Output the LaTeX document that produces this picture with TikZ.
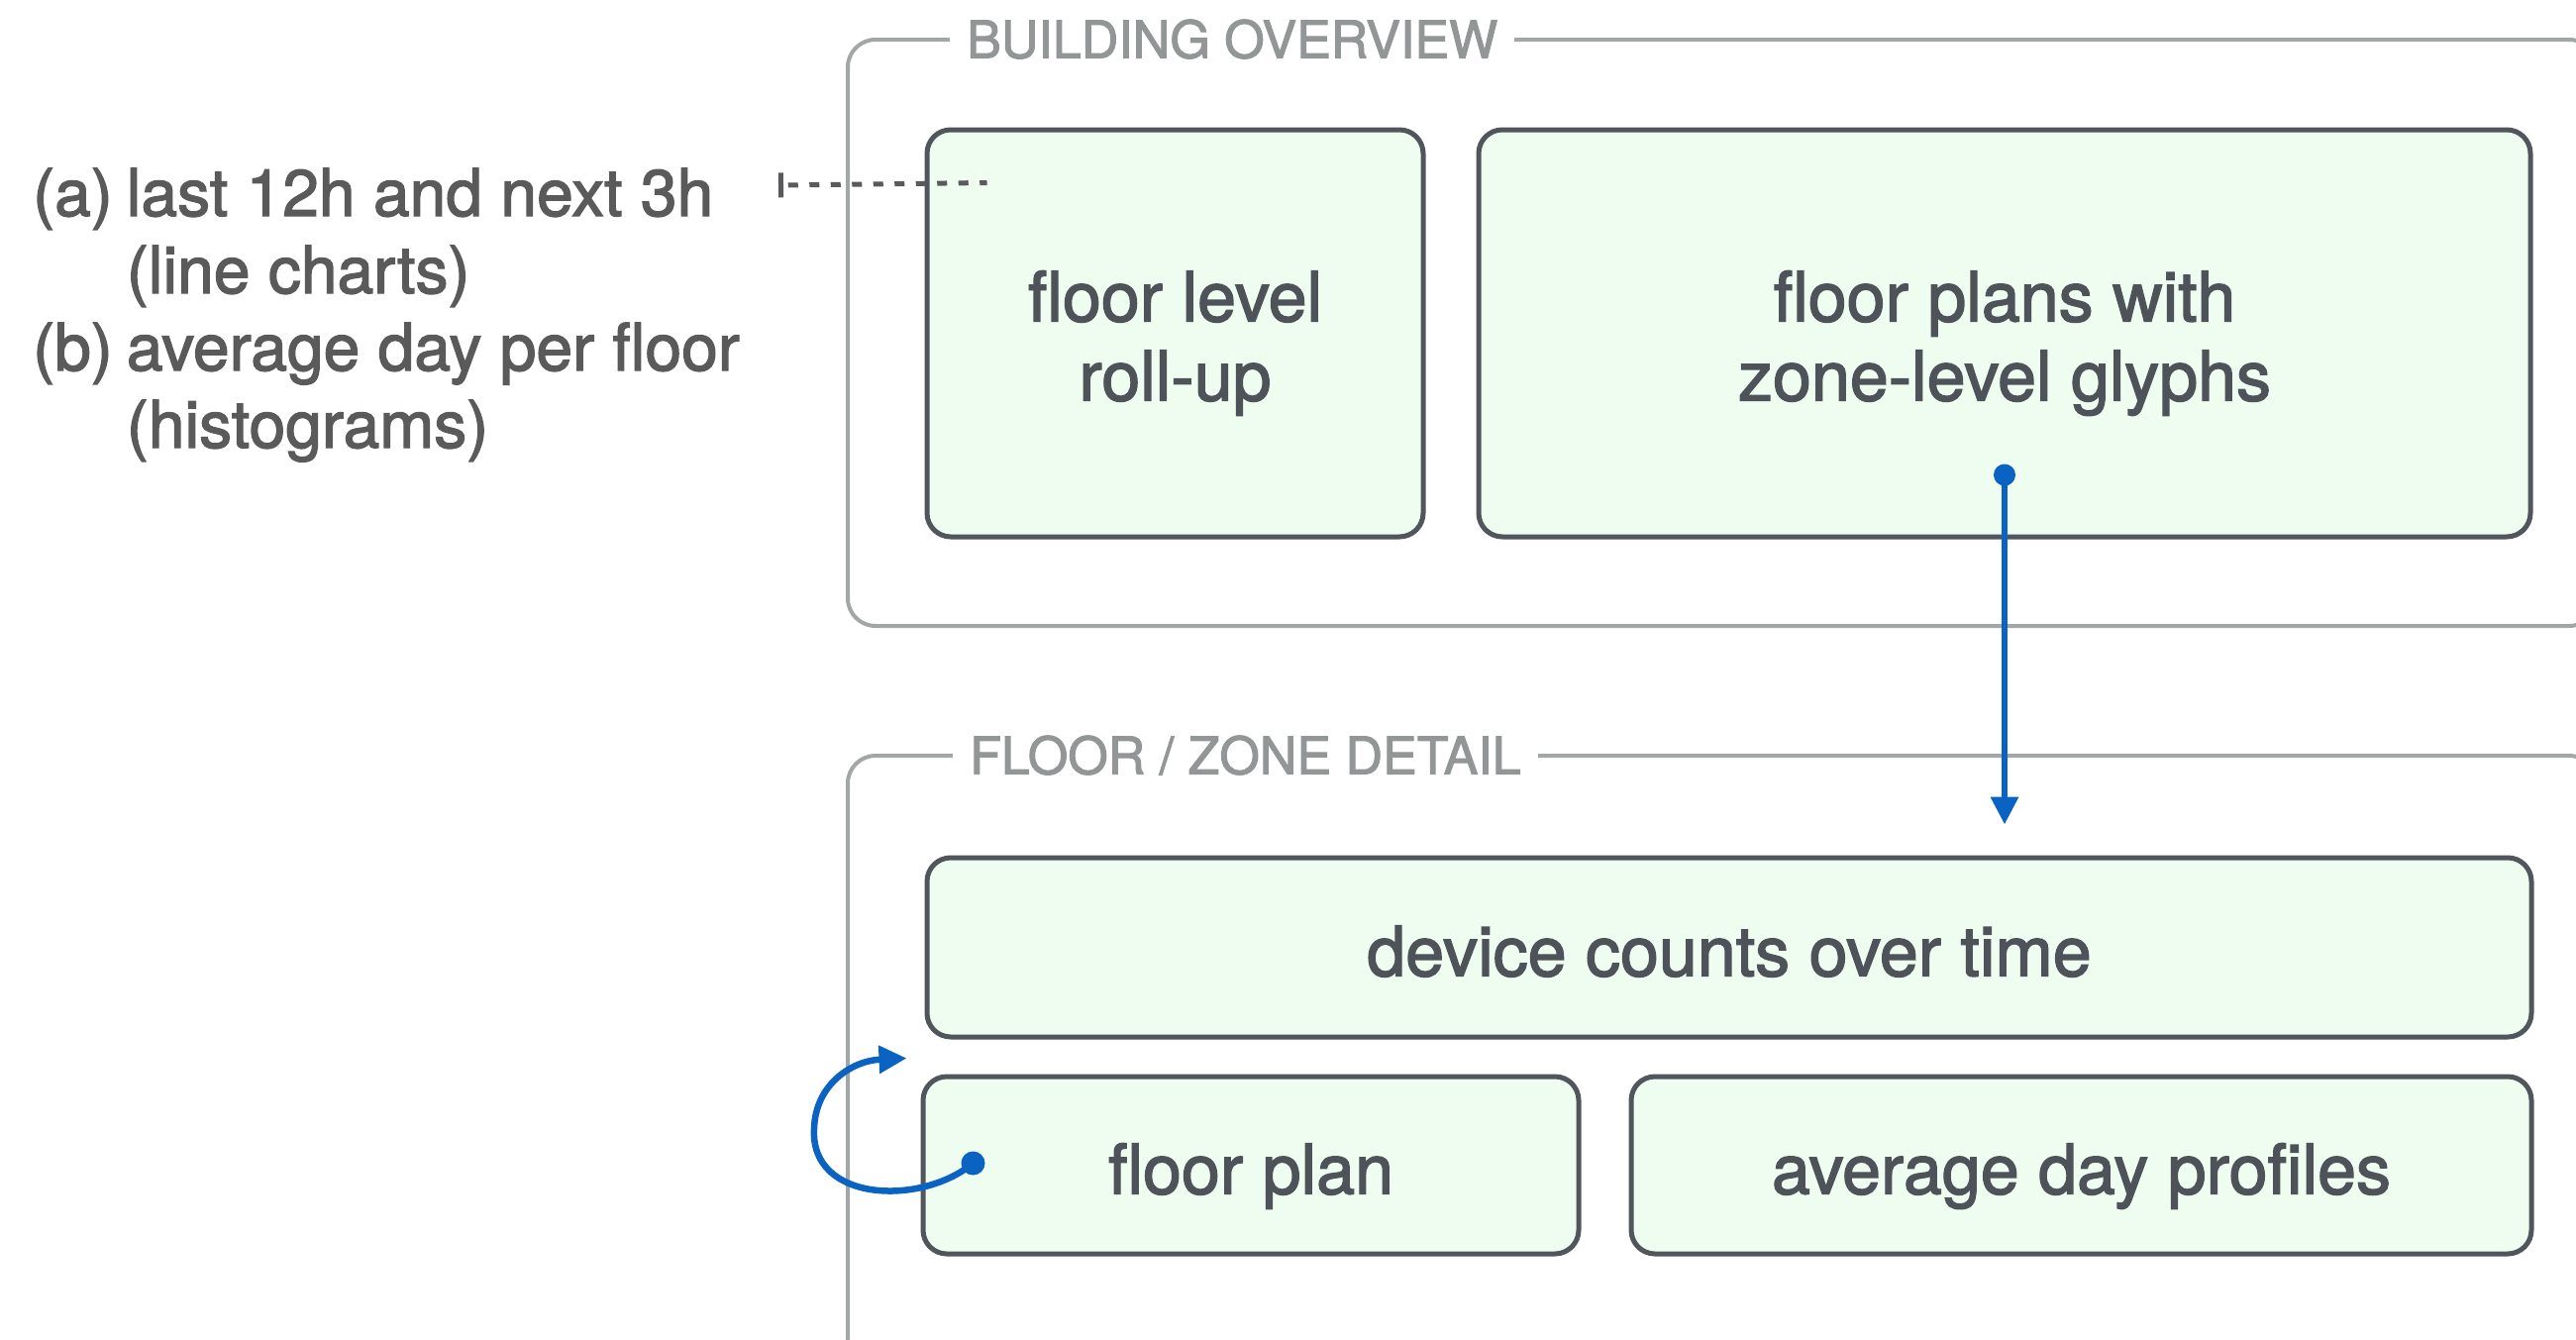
\documentclass[tikz,border=0pt]{standalone}
\usepackage{fontspec}
\setmainfont{TeX Gyre Heros}[FakeBold=2]
\usetikzlibrary{arrows.meta,calc}
\definecolor{framegray}{HTML}{A3A6A6}
\definecolor{titlegray}{HTML}{939696}
\definecolor{boxline}{HTML}{50565C}
\definecolor{boxfill}{HTML}{EFFCF0}
\definecolor{boxtext}{HTML}{4D5359}
\definecolor{annottext}{HTML}{5A5A5A}
\definecolor{linkblue}{HTML}{0A62C2}
\definecolor{dashgray}{HTML}{585A5B}
\begin{document}
\begin{tikzpicture}[x=1pt,y=-1pt,
  groupframe/.style={draw=framegray,line width=4pt,rounded corners=28pt},
  frametitle/.style={fill=white,text=titlegray,font=\fontsize{52}{60}\selectfont,
    inner xsep=17pt,inner ysep=0pt,text height=37pt,text depth=0pt,anchor=west},
  viewbox/.style={draw=boxline,fill=boxfill,line width=5pt,rounded corners=24pt,
    text=boxtext,font=\fontsize{70}{80}\selectfont,align=center,inner sep=0pt,
    text height=73pt,text depth=15pt},
  twoline/.style={text height=151pt},
  link/.style={draw=linkblue,line width=6.5pt,-{Triangle[length=28pt,width=27pt]}},
  linkdot/.style={fill=linkblue},
  notelinkstyle/.style={draw=dashgray,line width=5pt,dash pattern=on 10pt off 11.5pt,dash phase=-6pt,
    {Bar[width=25pt,line width=5pt]}-}
]
\path[use as bounding box] (0,0) rectangle (2601,1352);
\clip (0,0) rectangle (2601,1352);
\fill[white] (0,0) rectangle (2601,1352);

% group frames
\draw[groupframe] (856,40) rectangle (2622,632);
\draw[groupframe] (856,763) rectangle (2622,1380);
\node[frametitle] (bldgtitle) at (959,40) {BUILDING OVERVIEW};
\node[frametitle] (detailtitle) at (962,763) {FLOOR / ZONE DETAIL};

% views
\node[viewbox,twoline,minimum width=501pt,minimum height=411pt] (floorlevel) at (1186.5,336.5) {floor level\\roll-up};
\node[viewbox,twoline,minimum width=1062pt,minimum height=411pt] (floorplans) at (2024,336.5) {floor plans with\\zone-level glyphs};
\node[viewbox,minimum width=1620pt,minimum height=181pt] (devicecounts) at (1746,956.5) {device counts over time};
\node[viewbox,minimum width=662pt,minimum height=179pt] (floorplan) at (1263,1176.5) {floor plan};
\node[viewbox,minimum width=909pt,minimum height=179pt] (avgday) at (2101.5,1176.5) {average day profiles};

% annotation
\node[anchor=base west,text=annottext,font=\fontsize{66}{78}\selectfont,inner sep=0pt] (notes) at (33,218)
  {\begin{tabular}[t]{@{}l@{\hspace{14pt}}l@{}}(a)&last 12h and next 3h\\&(line charts)\\(b)&average day per floor\\&(histograms)\end{tabular}};
\coordinate (notelink) at (786,187);
\coordinate (levellink) at ($(floorlevel.north west)+(63,56)$);
\draw[notelinkstyle] (notelink) -- (levellink);

% links
\coordinate (plansdot) at ($(floorplans.south)+(0,-65)$);
\coordinate (devicein) at ($(plansdot |- devicecounts.north)+(0,-31)$);
\draw[link] (plansdot) -- (devicein);
\fill[linkdot] (plansdot) circle (11pt);

\coordinate (loopstart) at ($(floorplan.west)+(53,-2)$);
\coordinate (loopend) at ($(floorplan.north west)+(-14,-16)$);
\draw[link] (loopstart) .. controls (930,1218) and (818,1214) .. (822,1140)
  .. controls (823,1095) and (860,1071) .. (loopend);
\fill[linkdot] (loopstart) circle (12pt);
\end{tikzpicture}
\end{document}
